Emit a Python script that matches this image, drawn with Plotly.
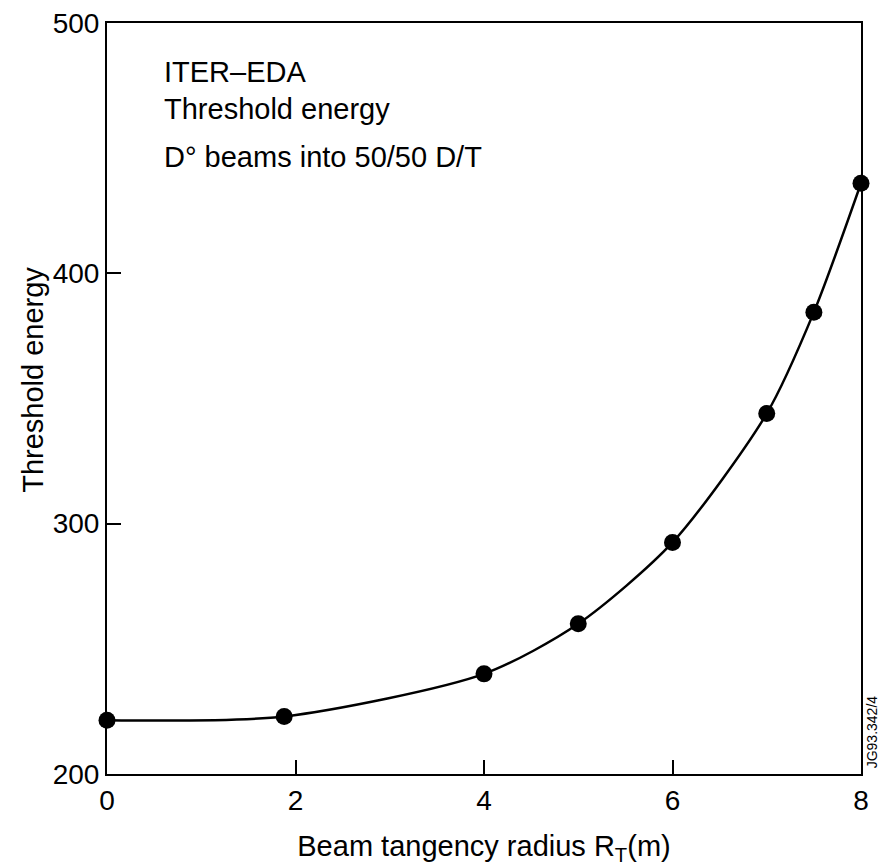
import plotly.graph_objects as go

# Data
radius_m = [0, 1.88, 4, 5, 6, 7, 7.5, 8]
threshold_energy = [221.5, 223, 240, 260, 292.5, 344, 384.5, 436]

x_ticks = [0, 2, 4, 6, 8]
y_ticks = [200, 300, 400, 500]

FONT = "Liberation Sans, Arial, Helvetica, sans-serif"

fig = go.Figure()
fig.add_trace(go.Scatter(
    x=radius_m, y=threshold_energy,
    mode="lines+markers",
    line=dict(color="black", width=2.5, shape="spline", smoothing=0.75),
    marker=dict(color="black", size=17),
    cliponaxis=False,
    showlegend=False,
))

fig.update_layout(
    width=879, height=866,
    margin=dict(l=107, r=18, t=23, b=92),
    paper_bgcolor="white", plot_bgcolor="white",
    font=dict(family=FONT, color="black", size=28),
    xaxis=dict(
        range=[0, 8], tickvals=x_ticks, ticktext=[str(v) for v in x_ticks],
        ticks="inside", ticklen=14, tickwidth=2, tickcolor="black",
        showline=True, linecolor="black", linewidth=2, mirror=True,
        showgrid=False, zeroline=False, automargin=False,
        tickfont=dict(size=28, family=FONT),
        title=dict(text="Beam tangency radius R<sub>T</sub>(m)",
                   font=dict(size=29, family=FONT), standoff=25),
    ),
    yaxis=dict(
        range=[200, 500], tickvals=y_ticks, ticktext=[str(v) for v in y_ticks],
        ticks="inside", ticklen=14, tickwidth=2, tickcolor="black",
        showline=True, linecolor="black", linewidth=2, mirror=True,
        showgrid=False, zeroline=False, automargin=False,
        tickfont=dict(size=28, family=FONT),
    ),
    annotations=[
        dict(text="Threshold energy", xref="paper", yref="paper",
             x=-0.098, y=0.525, textangle=-90, showarrow=False,
             font=dict(size=29, family=FONT), xanchor="center", yanchor="middle"),
        dict(text="ITER\u2013EDA", xref="paper", yref="paper",
             x=0.073, y=0.935, showarrow=False, xanchor="left", yanchor="middle",
             font=dict(size=29, family=FONT)),
        dict(text="Threshold energy", xref="paper", yref="paper",
             x=0.073, y=0.886, showarrow=False, xanchor="left", yanchor="middle",
             font=dict(size=29, family=FONT)),
        dict(text="D\u00b0 beams into 50/50 D/T", xref="paper", yref="paper",
             x=0.073, y=0.821, showarrow=False, xanchor="left", yanchor="middle",
             font=dict(size=29, family=FONT)),
        dict(text="JG93.342/4", xref="paper", yref="paper",
             x=1.014, y=0.005, textangle=-90, showarrow=False,
             xanchor="center", yanchor="bottom",
             font=dict(size=14, family=FONT)),
    ],
)

fig.write_html("out.html")
